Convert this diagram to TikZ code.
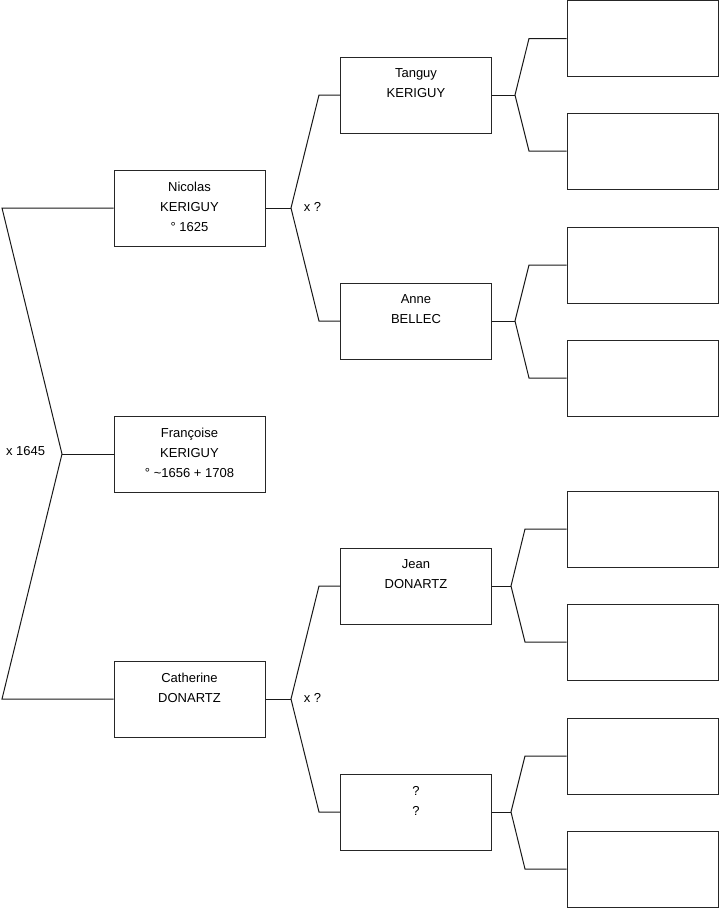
\documentclass[tikz,border=0pt]{standalone}
\usepackage{fontspec}
\setmainfont{Liberation Sans}
\newcommand{\names}[1]{\parbox[c][52pt][t]{135pt}{\centering #1}}
\begin{document}
\begin{tikzpicture}[x=1pt, y=-1pt, line width=1pt,
    every node/.style={font=\fontsize{13}{20}\selectfont},
    person/.style={draw=black!85, minimum width=151pt, minimum height=76pt, inner xsep=8pt, inner ysep=12pt},
    link/.style={draw=black!90}]
    \useasboundingbox (0,0) rectangle (719,908);
    \node[person] (nic) at (189.5,208) {\names{Nicolas\\KERIGUY\\° 1625}};
    \node[person] (fra) at (189.5,454) {\names{Françoise\\KERIGUY\\° \textasciitilde1656 + 1708}};
    \node[person] (cat) at (189.5,699) {\names{Catherine\\DONARTZ}};
    \node[person] (tan) at (416,95) {\names{Tanguy\\KERIGUY}}; \node[person] (ann) at (416,321) {\names{Anne\\BELLEC}};
    \node[person] (jea) at (416,586) {\names{Jean\\DONARTZ}}; \node[person] (unk) at (416,812) {\names{?\\?}};
    \foreach \y [count=\i] in {38.5,151,265,378,529,642,756,869}
        \node[person] (g\i) at (642.5,\y) {};
    \coordinate (v0) at (62,454); \coordinate (a1) at (2,208); \coordinate (a2) at (2,699);
    \draw[link] (nic.west) -- (a1) -- (v0) -- (a2) -- (cat.west); \draw[link] (v0) -- (fra.west);
    \node[anchor=east] (m0) at (49,451) {x 1645};
    \coordinate (v1) at (291,208); \coordinate (b1) at (319,95); \coordinate (b2) at (319,321);
    \draw[link] (tan.west) -- (b1) -- (v1) -- (b2) -- (ann.west); \draw[link] (nic.east) -- (v1);
    \node[anchor=west] (m1) at (300,207) {x ?};
    \coordinate (v2) at (291,699); \coordinate (b3) at (319,586); \coordinate (b4) at (319,812);
    \draw[link] (jea.west) -- (b3) -- (v2) -- (b4) -- (unk.west); \draw[link] (cat.east) -- (v2);
    \node[anchor=west] (m2) at (300,698) {x ?};
    \coordinate (v3) at (515,95); \coordinate (c1) at (529,38.5); \coordinate (c2) at (529,151);
    \draw[link] (g1.west) -- (c1) -- (v3) -- (c2) -- (g2.west); \draw[link] (tan.east) -- (v3);
    \coordinate (v4) at (515,321); \coordinate (c3) at (529,265); \coordinate (c4) at (529,378);
    \draw[link] (g3.west) -- (c3) -- (v4) -- (c4) -- (g4.west); \draw[link] (ann.east) -- (v4);
    \coordinate (v5) at (511,586); \coordinate (c5) at (525,529); \coordinate (c6) at (525,642);
    \draw[link] (g5.west) -- (c5) -- (v5) -- (c6) -- (g6.west); \draw[link] (jea.east) -- (v5);
    \coordinate (v6) at (511,812); \coordinate (c7) at (525,756); \coordinate (c8) at (525,869);
    \draw[link] (g7.west) -- (c7) -- (v6) -- (c8) -- (g8.west); \draw[link] (unk.east) -- (v6);
\end{tikzpicture}
\end{document}
